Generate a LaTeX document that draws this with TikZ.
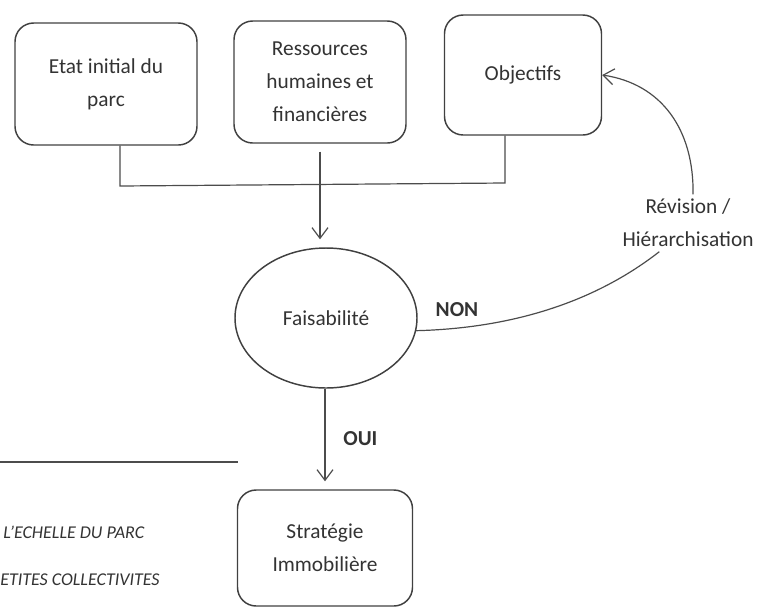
\documentclass[tikz,border=0pt]{standalone}
\usepackage{fontspec}
\setmainfont{Carlito}
\usetikzlibrary{arrows.meta, shapes.geometric}

\tikzset{
  bloc/.style={draw=black!75, line width=1.1pt, rounded corners=14pt, align=center,
    text=black!80, font=\fontsize{16}{24.75}\selectfont, inner sep=0pt},
  lien/.style={draw=black!70, line width=0.9pt},
  fleche/.style={lien, -{Straight Barb[length=8pt, width=12pt]}},
  etiq/.style={text=black!80, font=\fontsize{16}{24.75}\selectfont, align=center},
}

\begin{document}
\begin{tikzpicture}[x=0.75pt, y=-0.75pt]
  \useasboundingbox (0,0) rectangle (757,608);
  % Blocs du haut
  \node[bloc, minimum width=136.5pt, minimum height=91.5pt] (etat) at (106,84)
    {Etat initial du\\parc};
  \node[bloc, minimum width=129pt, minimum height=91.5pt] (ress) at (320,82)
    {Ressources\\humaines et\\financières};
  \node[bloc, minimum width=117.75pt, minimum height=90pt] (obj) at (523,75) {Objectifs};
  % Faisabilite
  \node[bloc, ellipse, rounded corners=0pt, minimum width=136.5pt, minimum height=105pt]
    (faisab) at (326,318) {Faisabilité};
  % Strategie
  \node[bloc, minimum width=131.25pt, minimum height=87pt] (strat) at (325,548)
    {Stratégie\\Immobilière};
  % Revision
  \node[etiq] (revision) at (688,223) {Révision /\\Hiérarchisation};
  % Accolade du haut
  \coordinate (g) at (120,186);
  \coordinate (d) at (505,183);
  \draw[lien] (etat.south -| g) -- (g) -- (d) -- (d |- obj.south);
  \draw[fleche, shorten <=6pt, shorten >=6pt] (ress.south) -- (ress.south |- faisab.north);
  % OUI
  \draw[fleche, shorten >=6pt] (faisab.south -| strat.north) -- (strat.north)
    node[midway, right=10pt, text=black!80, font=\fontsize{16}{20}\bfseries] {OUI};
  % NON et retour
  \draw[lien] (faisab.-8) .. controls (520,328) and (600,298) .. (revision.225);
  \node[text=black!80, font=\fontsize{16}{20}\bfseries] (non) at (457,310) {NON};
  \draw[fleche] (revision.80) .. controls (694,130) and (662,84) .. (obj.east);
  % Bas gauche
  \draw[lien] (0,462) -- (238,462);
  \node[anchor=west, inner sep=0pt, text=black!80, font=\fontsize{13.5}{16}\itshape]
    (echelle) at (3,532) {L'ECHELLE DU PARC};
  \node[anchor=west, inner sep=0pt, text=black!80, font=\fontsize{13.5}{16}\itshape]
    (petites) at (0,580) {ETITES COLLECTIVITES};
\end{tikzpicture}
\end{document}
